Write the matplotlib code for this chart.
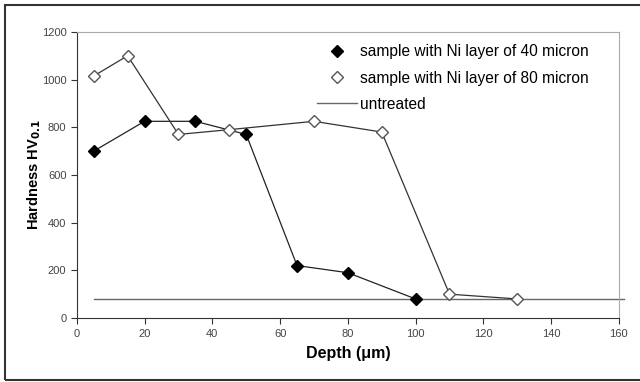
import matplotlib
matplotlib.use("Agg")
import matplotlib.pyplot as plt
from matplotlib.lines import Line2D
from matplotlib.patches import Rectangle

plt.rcParams["font.family"] = ["Liberation Sans", "DejaVu Sans"]

# Hardness profiles
depth_40 = [5, 20, 35, 50, 65, 80, 100]
hard_40 = [700, 825, 825, 770, 220, 190, 80]

depth_80 = [5, 15, 30, 45, 70, 90, 110, 130]
hard_80 = [1015, 1100, 770, 790, 825, 780, 100, 80]

untreated_depth = [5, 161.5]
untreated_hard = [80, 80]

x_ticks = [0, 20, 40, 60, 80, 100, 120, 140, 160]
y_ticks = [0, 200, 400, 600, 800, 1000, 1200]

labels = [
    "sample with Ni layer of 40 micron",
    "sample with Ni layer of 80 micron",
    "untreated",
]

fig = plt.figure(figsize=(6.4, 3.82), dpi=100)
ax = fig.add_axes([0.120, 0.1675, 0.847, 0.749])

ax.plot(depth_40, hard_40, color="#222222", linewidth=0.9, marker="D",
        markersize=6.5, markerfacecolor="black", markeredgecolor="black", zorder=3)
ax.plot(depth_80, hard_80, color="#333333", linewidth=0.9, marker="D",
        markersize=6.5, markerfacecolor="white", markeredgecolor="#555555", zorder=3)
ax.plot(untreated_depth, untreated_hard, color="#666666", linewidth=1.0,
        zorder=2, clip_on=False)

ax.set_xlim(0, 160)
ax.set_ylim(0, 1200)
ax.set_xticks(x_ticks)
ax.set_yticks(y_ticks)
ax.tick_params(axis="both", labelsize=8, labelcolor="#444444", color="#333333",
               length=4, direction="out")
ax.tick_params(axis="x", pad=4)

for side in ["left", "bottom"]:
    ax.spines[side].set_color("#333333")
for side in ["top", "right"]:
    ax.spines[side].set_color("#aaaaaa")

ax.set_xlabel("Depth (\u03bcm)", fontsize=11.5, fontweight="bold", labelpad=5)
ax.set_ylabel("Hardness HV$_{\\mathbf{0.1}}$", fontsize=10.5, fontweight="bold", labelpad=-1)

# legend: marker-only handles for the samples, plain line for untreated
handles = [
    Line2D([], [], linestyle="none", marker="D", markersize=6,
           markerfacecolor="black", markeredgecolor="black"),
    Line2D([], [], linestyle="none", marker="D", markersize=6,
           markerfacecolor="white", markeredgecolor="#555555"),
    Line2D([], [], color="#666666", linewidth=1.0),
]
ax.legend(handles, labels, loc="upper left", bbox_to_anchor=(0.42, 1.0),
          frameon=False, fontsize=11.2, handlelength=2.6, handletextpad=0.15,
          labelspacing=0.72, borderaxespad=0.4)

fig.patches.append(Rectangle((5 / 640, 2 / 382), 1.0, 375 / 382, transform=fig.transFigure,
                             fill=False, edgecolor="#333333", linewidth=1.5))

fig.savefig("out.png", dpi=100)
